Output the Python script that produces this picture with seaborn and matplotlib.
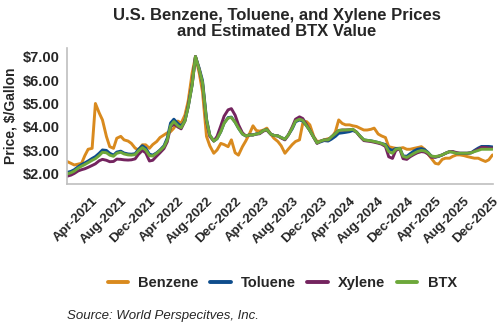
import numpy as np
import pandas as pd
import matplotlib
matplotlib.use("Agg")
import matplotlib.pyplot as plt
import matplotlib.ticker as mticker
import matplotlib.transforms as mtransforms
import seaborn as sns

# ---- data (semi-monthly, Dec-15-2020 .. Dec-01-2025) ----
dates = pd.date_range("2020-12-15", periods=120, freq="SMS")

benzene = [2.53, 2.45, 2.38, 2.42, 2.45, 2.78, 3.05, 3.09, 5.0, 4.6,
           4.3, 3.59, 3.16, 3.09, 3.52, 3.6, 3.45, 3.40, 3.30, 3.10,
           3.02, 3.24, 3.24, 3.09, 3.25, 3.38, 3.55, 3.66, 3.75, 3.80,
           3.95, 4.25, 4.16, 4.5, 5.1, 6.3, 7.0, 6.3, 5.5, 3.6,
           3.2, 2.88, 3.02, 3.3, 3.25, 3.16, 3.45, 2.9, 2.8, 3.16,
           3.4, 3.73, 4.05, 3.85, 3.82, 3.87, 3.95, 3.7, 3.52, 3.38,
           3.2, 2.88, 3.05, 3.25, 3.38, 3.45, 4.16, 4.23, 4.09, 3.59,
           3.38, 3.40, 3.45, 3.50, 3.52, 3.80, 4.30, 4.15, 4.09, 4.09,
           4.05, 4.02, 3.95, 3.87, 3.87, 3.90, 3.95, 3.70, 3.62, 3.55,
           3.16, 3.12, 3.09, 3.09, 3.12, 3.05, 3.05, 3.09, 3.12, 3.16,
           3.05, 2.85, 2.67, 2.45, 2.42, 2.62, 2.67, 2.67, 2.75, 2.81,
           2.81, 2.78, 2.74, 2.70, 2.67, 2.67, 2.60, 2.53, 2.60, 2.81]

toluene = [2.06, 2.11, 2.18, 2.31, 2.40, 2.47, 2.55, 2.66, 2.74, 2.88,
           3.02, 3.00, 2.88, 2.80, 2.93, 2.97, 2.89, 2.85, 2.84, 2.86,
           3.04, 3.20, 3.10, 2.84, 2.80, 2.90, 3.02, 3.20, 3.53, 4.17,
           4.33, 4.15, 4.03, 4.27, 4.85, 5.80, 7.00, 6.50, 5.98, 4.35,
           3.65, 3.40, 3.50, 3.80, 4.16, 4.40, 4.42, 4.20, 3.95, 3.70,
           3.62, 3.66, 3.66, 3.70, 3.73, 3.85, 3.88, 3.70, 3.64, 3.62,
           3.55, 3.48, 3.65, 3.92, 4.22, 4.30, 4.25, 4.05, 3.85, 3.55,
           3.32, 3.37, 3.42, 3.40, 3.48, 3.60, 3.73, 3.75, 3.77, 3.80,
           3.85, 3.78, 3.62, 3.45, 3.43, 3.41, 3.38, 3.34, 3.30, 3.25,
           3.07, 3.00, 3.08, 3.09, 2.77, 2.75, 2.86, 2.98, 3.05, 3.08,
           3.03, 2.92, 2.76, 2.72, 2.74, 2.81, 2.88, 2.95, 2.94, 2.88,
           2.88, 2.88, 2.88, 2.90, 3.00, 3.10, 3.17, 3.17, 3.17, 3.15]

xylene = [1.90, 1.95, 2.02, 2.13, 2.18, 2.22, 2.28, 2.36, 2.43, 2.56,
          2.62, 2.58, 2.52, 2.53, 2.63, 2.62, 2.60, 2.59, 2.60, 2.64,
          2.83, 3.00, 2.90, 2.55, 2.58, 2.76, 2.90, 3.08, 3.37, 4.00,
          4.13, 4.00, 3.92, 4.25, 4.90, 5.85, 7.00, 6.45, 5.85, 4.25,
          3.60, 3.40, 3.60, 4.05, 4.46, 4.73, 4.78, 4.50, 4.10, 3.75,
          3.62, 3.66, 3.66, 3.70, 3.71, 3.83, 3.86, 3.70, 3.64, 3.62,
          3.53, 3.45, 3.65, 4.00, 4.33, 4.43, 4.36, 4.10, 3.85, 3.55,
          3.30, 3.40, 3.45, 3.45, 3.58, 3.72, 3.85, 3.87, 3.87, 3.88,
          3.90, 3.78, 3.60, 3.42, 3.40, 3.38, 3.35, 3.31, 3.27, 3.17,
          2.73, 2.66, 3.00, 3.07, 2.65, 2.62, 2.73, 2.83, 2.90, 2.95,
          2.93, 2.85, 2.71, 2.71, 2.76, 2.81, 2.88, 2.95, 2.95, 2.91,
          2.88, 2.88, 2.88, 2.90, 2.97, 3.05, 3.13, 3.13, 3.10, 3.10]

btx = [2.00, 2.05, 2.12, 2.25, 2.33, 2.40, 2.48, 2.58, 2.65, 2.78,
       2.92, 2.90, 2.80, 2.75, 2.88, 2.92, 2.85, 2.81, 2.80, 2.82,
       2.98, 3.12, 3.02, 2.78, 2.76, 2.88, 3.00, 3.16, 3.45, 4.05,
       4.23, 4.05, 3.97, 4.25, 4.85, 5.80, 7.00, 6.45, 5.90, 4.30,
       3.65, 3.40, 3.50, 3.80, 4.16, 4.38, 4.40, 4.20, 3.95, 3.70,
       3.62, 3.66, 3.66, 3.70, 3.73, 3.85, 3.88, 3.70, 3.64, 3.62,
       3.55, 3.48, 3.65, 3.95, 4.25, 4.33, 4.28, 4.05, 3.85, 3.55,
       3.32, 3.40, 3.45, 3.45, 3.58, 3.72, 3.85, 3.87, 3.87, 3.88,
       3.90, 3.78, 3.62, 3.45, 3.43, 3.41, 3.38, 3.34, 3.30, 3.22,
       2.95, 2.88, 3.05, 3.09, 2.75, 2.70, 2.78, 2.88, 2.95, 3.00,
       2.98, 2.90, 2.76, 2.74, 2.76, 2.81, 2.88, 2.95, 2.92, 2.88,
       2.88, 2.88, 2.88, 2.90, 2.95, 3.00, 3.05, 3.05, 3.05, 3.05]

series_names = ["Benzene", "Toluene", "Xylene", "BTX"]
colors = ["#D98A1E", "#0E4D8C", "#74245F", "#6DA83A"]
tick_dates = pd.date_range("2021-04-01", "2025-12-01", freq="4MS")
y_ticks = [2, 3, 4, 5, 6, 7]

df = pd.concat([
    pd.DataFrame({"Date": dates, "Price": vals, "Series": name})
    for name, vals in zip(series_names, [benzene, toluene, xylene, btx])
])

# ---- style ----
sns.set_style("white")
plt.rcParams["font.family"] = ["Liberation Sans", "DejaVu Sans"]

fig = plt.figure(figsize=(5.0, 3.3), dpi=100)
ax = fig.add_axes([0.134, 0.4424, 0.852, 0.4126])

sns.lineplot(data=df, x="Date", y="Price", hue="Series",
             hue_order=series_names, palette=colors, linewidth=2.1,
             ax=ax, legend=True)

ax.set_xlim(pd.Timestamp("2020-12-15"), pd.Timestamp("2025-12-03"))
ax.set_ylim(1.57, 7.37)
ax.set_yticks(y_ticks)
ax.yaxis.set_major_formatter(mticker.FuncFormatter(lambda v, p: f"${v:.2f}"))
ax.set_xticks(tick_dates)
ax.set_xticklabels([d.strftime("%b-%Y") for d in tick_dates],
                   rotation=45, ha="right", rotation_mode="anchor")

shift = mtransforms.ScaledTranslation(-0.04, 0, fig.dpi_scale_trans)
for lab in ax.get_xticklabels():
    lab.set_fontweight("bold")
    lab.set_fontsize(9.6)
    lab.set_transform(lab.get_transform() + shift)
for lab in ax.get_yticklabels():
    lab.set_fontweight("bold")
    lab.set_fontsize(10.5)

ax.tick_params(axis="x", length=4, width=1, color="black", direction="out", pad=4)
ax.tick_params(axis="y", length=3, width=0.8, color="#888888", direction="out", pad=2)

ax.set_xlabel("")
ax.set_ylabel("Price, $/Gallon", fontsize=10, fontweight="bold", labelpad=4)

for s in ["top", "right"]:
    ax.spines[s].set_visible(False)
for s in ["left", "bottom"]:
    ax.spines[s].set_color("#BFBFBF")
    ax.spines[s].set_linewidth(1.2)

sns.move_legend(ax, "center", bbox_to_anchor=(0.505, -0.73), ncol=4,
                frameon=False, title=None, handlelength=1.4,
                columnspacing=0.8, handletextpad=0.7,
                prop={"weight": "bold", "size": 10.5})
for line in ax.get_legend().get_lines():
    line.set_linewidth(2.8)

fig.text(0.553, 0.975, "U.S. Benzene, Toluene, and Xylene Prices\nand Estimated BTX Value",
         ha="center", va="top", fontsize=12, fontweight="bold", linespacing=1.05)
fig.text(0.134, 0.042, "Source: World Perspecitves, Inc.", ha="left", va="center",
         fontsize=9.5, fontstyle="italic")

fig.savefig("out.png", dpi=100)
